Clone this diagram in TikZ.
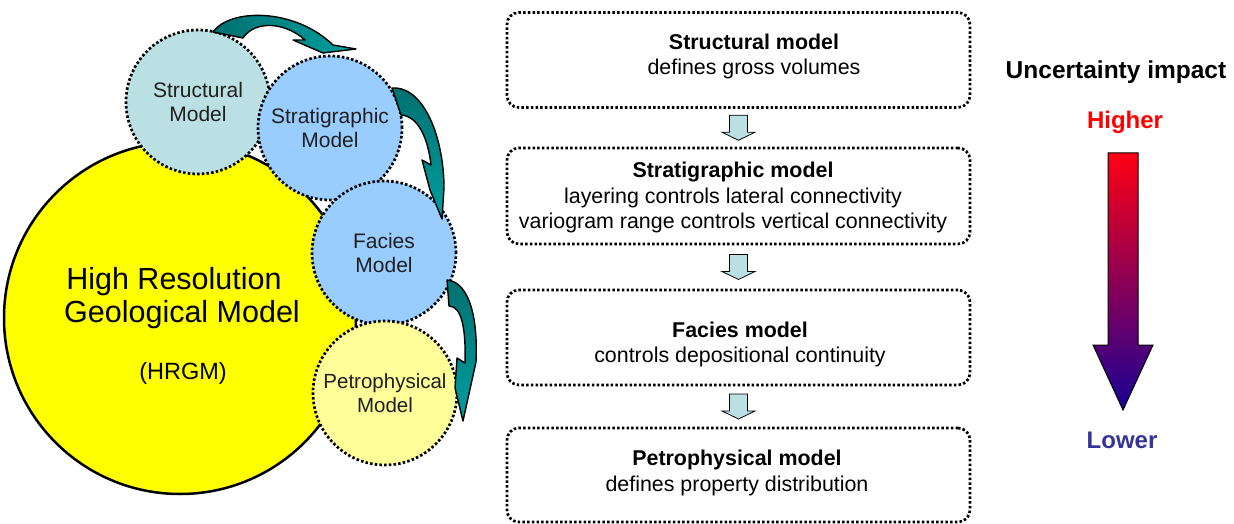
\documentclass[tikz,border=0pt]{standalone}
\usepackage{fontspec}
\setmainfont{Liberation Sans}
\usetikzlibrary{calc}
\definecolor{hrgmyellow}{RGB}{255,255,0}
\definecolor{structfill}{RGB}{187,224,227}
\definecolor{bluefill}{RGB}{153,204,255}
\definecolor{petrofill}{RGB}{255,255,153}
\definecolor{tealdark}{RGB}{0,112,112}
\definecolor{teallight}{RGB}{0,158,158}
\definecolor{highred}{RGB}{255,0,20}
\definecolor{lowblue}{RGB}{25,0,150}
\definecolor{lowtext}{RGB}{51,51,153}
\definecolor{hightext}{RGB}{255,0,0}
\begin{document}
\begin{tikzpicture}[x=1pt,y=-1pt,
  dotline/.style={draw=black, line width=2.7pt, dash pattern=on 2.5pt off 2.2pt},
  modelcircle/.style={circle, dotline, minimum size=144pt, inner sep=0pt, align=center,
    font=\fontsize{21}{24.5}\selectfont, text=black!88},
  stepbox/.style={rounded corners=12pt, dotline, minimum width=463pt, minimum height=95pt, inner sep=0pt},
  boxtext/.style={align=center, font=\fontsize{21.4}{25.5}\selectfont, inner sep=0pt},
  smallarrow/.style={draw=black, line width=0.8pt, fill=structfill},
  bendarrow/.style={draw=black, line width=1.4pt, line join=round},
  pics/downarrow/.style={code={
    \draw[smallarrow] (-9,-12.5) -- (9,-12.5) -- (9,4.5) -- (16.5,4.5) -- (0,12.5)
      -- (-16.5,4.5) -- (-9,4.5) -- cycle;}}
]
\useasboundingbox (0,0) rectangle (1234,524);

% left: geological model circles
\node[circle, draw=black, line width=2.5pt, fill=hrgmyellow, minimum size=352pt, inner sep=0pt] (hrgm) at (180,318) {};
\node[align=center, inner sep=0pt, font=\fontsize{30.5}{33}\selectfont] (hrgmtitle) at (178,298) {High Resolution\hspace*{8pt}\\\hspace*{8pt}Geological Model};
\node[inner sep=0pt, font=\fontsize{23.5}{26}\selectfont] (hrgmabbr) at (183,373) {(HRGM)};

\node[modelcircle, fill=structfill] (cstruct) at (198,102) {Structural\\Model};
\node[modelcircle, fill=bluefill] (cstrat) at (330,128) {Stratigraphic\\Model};
\node[modelcircle, fill=bluefill] (cfacies) at (384,253) {Facies\\Model};
\node[modelcircle, fill=petrofill, font=\fontsize{20.5}{24.5}\selectfont] (cpetro) at (385,393) {Petrophysical\\Model};

% curved teal arrows
\shade[bendarrow, left color=tealdark, right color=teallight]
  (213,32) .. controls (230,8) and (295,8) .. (333,45) -- (356,49) -- (323,53) -- (293,40)
  -- (305,40) .. controls (285,22) and (255,20) .. (243,38) -- cycle;
\shade[bendarrow, top color=tealdark, bottom color=teallight]
  (392,88) .. controls (425,86) and (444,140) .. (444,188) -- (442,219) -- (430,190)
  -- (422,160) -- (431,165) .. controls (428,138) and (418,116) .. (401,115) -- cycle;
\shade[bendarrow, top color=tealdark, bottom color=teallight]
  (447,280) .. controls (470,282) and (478,320) .. (476,362) -- (463,421) -- (455,388)
  -- (457,358) -- (465,363) .. controls (466,330) and (462,306) .. (449,306) -- cycle;

% middle: model boxes
\node[stepbox] (b1) at (738.5,60) {};
\node[stepbox, minimum height=96pt] (b2) at (738.5,196) {};
\node[stepbox] (b3) at (738.5,337.5) {};
\node[stepbox, minimum height=94pt] (b4) at (738.5,475) {};

\node[boxtext] (t1) at (754,56.5) {\textbf{Structural model}\\defines gross volumes};
\node[boxtext] (t2) at (733,197.5) {\textbf{Stratigraphic model}\\layering controls lateral connectivity\\variogram range controls vertical connectivity};
\node[boxtext] (t3) at (740,344.5) {\textbf{Facies model}\\controls depositional continuity};
\node[boxtext] (t4) at (737,473) {\textbf{Petrophysical model}\\defines property distribution};

\coordinate (m1) at ($(b1.south)!0.5!(b2.north)$);
\coordinate (m2) at ($(b2.south)!0.5!(b3.north)$);
\coordinate (m3) at ($(b3.south)!0.5!(b4.north)$);
\pic at (m1) {downarrow};
\pic at (m2) {downarrow};
\pic at (m3) {downarrow};

% right: uncertainty impact
\node[inner sep=0pt, font=\bfseries\fontsize{24.5}{28}\selectfont] (unc) at (1116,72) {Uncertainty impact};
\node[inner sep=0pt, text=hightext, font=\bfseries\fontsize{24}{28}\selectfont] (high) at (1125,122) {Higher};
\node[inner sep=0pt, text=lowtext, font=\bfseries\fontsize{24}{28}\selectfont] (low) at (1122,440) {Lower};
\shade[top color=highred, bottom color=lowblue, draw=black, line width=1pt, line join=miter]
  (1108,153) -- (1138,153) -- (1138,345) -- (1153,345) -- (1123,410) -- (1093,345) -- (1108,345) -- cycle;
\end{tikzpicture}
\end{document}
